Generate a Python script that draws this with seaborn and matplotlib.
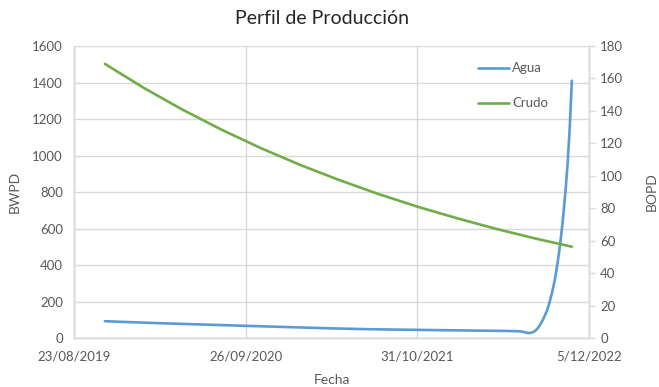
import matplotlib
matplotlib.use("Agg")
import matplotlib.pyplot as plt
import numpy as np
import pandas as pd
import seaborn as sns

# Production history
agua_fechas = ["2019-11-03", "2020-03-10", "2020-10-06", "2021-04-11", "2021-07-13",
               "2021-11-18", "2022-05-12", "2022-06-27", "2022-07-06", "2022-07-16",
               "2022-07-24", "2022-08-01", "2022-08-08", "2022-08-15", "2022-08-22",
               "2022-08-29", "2022-09-04", "2022-09-10", "2022-09-16", "2022-09-21",
               "2022-09-26", "2022-10-01", "2022-10-06", "2022-10-11", "2022-10-16",
               "2022-10-21", "2022-10-26"]
agua_bwpd = [92, 81, 66, 53, 48, 44, 39, 37, 33, 27, 29, 38, 55, 80, 112,
             150, 195, 250, 315, 385, 465, 560, 670, 800, 950, 1150, 1410]

crudo_fechas = ["2019-11-03", "2020-02-01", "2020-05-01", "2020-08-01", "2020-11-01",
                "2021-02-01", "2021-05-01", "2021-08-01", "2021-11-01", "2022-02-01",
                "2022-05-01", "2022-08-01", "2022-10-26"]
crudo_bopd = [169, 154.3, 140.9, 128.4, 117.0, 106.6, 97.5, 88.8, 80.9, 73.8,
              67.4, 61.4, 56.3]

x_ticks = ["2019-08-23", "2020-09-26", "2021-10-31", "2022-12-05"]
x_tick_labels = ["23/08/2019", "26/09/2020", "31/10/2021", "5/12/2022"]

df_agua = pd.DataFrame({"Fecha": pd.to_datetime(agua_fechas), "BWPD": agua_bwpd})
df_crudo = pd.DataFrame({"Fecha": pd.to_datetime(crudo_fechas), "BOPD": crudo_bopd})

sns.set_style("white")
plt.rcParams["font.family"] = ["Lato", "DejaVu Sans"]

txt = "#595959"
grid = "#D9D9D9"
azul = "#5B9BD5"
verde = "#70AD47"

fig = plt.figure(figsize=(6.59, 3.87), dpi=100)
ax = fig.add_axes([0.1123, 0.1266, 0.7815, 0.7544])
ax2 = ax.twinx()

sns.lineplot(data=df_agua, x="Fecha", y="BWPD", ax=ax, color=azul, lw=1.9, label="Agua", legend=False)
sns.lineplot(data=df_crudo, x="Fecha", y="BOPD", ax=ax2, color=verde, lw=1.9, label="Crudo", legend=False)
for a in (ax, ax2):
    for ln in a.get_lines():
        ln.set_solid_joinstyle("round")
        ln.set_solid_capstyle("round")

xt = pd.to_datetime(x_ticks)
ax.set_xlim(xt[0], xt[-1])
ax.set_xticks(xt)
ax.set_xticklabels(x_tick_labels)

ax.set_ylim(0, 1600)
ax.set_yticks(np.arange(0, 1601, 200))
ax2.set_ylim(0, 180)
ax2.set_yticks(np.arange(0, 181, 20))

ax.grid(True, color=grid, lw=1)
ax.set_axisbelow(True)
for a in (ax, ax2):
    for s in a.spines.values():
        s.set_color(grid)
        s.set_linewidth(1)
    a.spines["top"].set_visible(False)

ax.tick_params(axis="both", length=0, colors=txt, labelsize=9.5)
ax.tick_params(axis="y", pad=8)
ax.tick_params(axis="x", pad=9)
ax2.tick_params(axis="y", length=4, width=1, color=grid, labelcolor=txt, labelsize=9.5, pad=4, direction="out")

ax.set_xlabel("Fecha", color=txt, fontsize=10, labelpad=8)
ax.set_ylabel("BWPD", color=txt, fontsize=10, labelpad=8)
ax2.set_ylabel("BOPD", color=txt, fontsize=10, labelpad=16)

fig.suptitle("Perfil de Producción", x=0.489, y=0.975, fontsize=14, color="#262626")

h1, l1 = ax.get_legend_handles_labels()
h2, l2 = ax2.get_legend_handles_labels()
ax2.legend(h1 + h2, l1 + l2, loc="upper left", bbox_to_anchor=(0.762, 0.985), frameon=False,
           fontsize=9.5, labelcolor=txt, handlelength=2.35, handletextpad=0.2, labelspacing=1.75)

fig.savefig("out.png", dpi=100)
